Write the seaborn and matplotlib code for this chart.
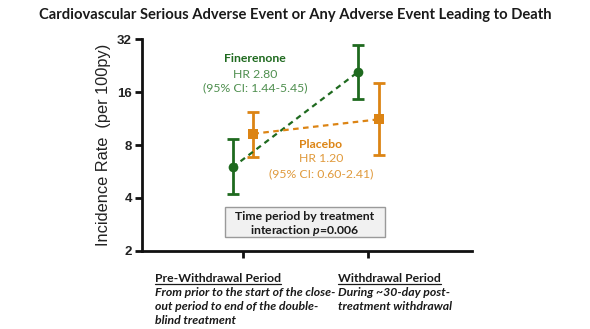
import matplotlib
matplotlib.use("Agg")
import matplotlib.pyplot as plt
from matplotlib.ticker import FixedLocator, FixedFormatter, NullLocator
import seaborn as sns
import pandas as pd
import numpy as np

# Incidence rates (per 100 patient-years) with 95% CI
periods = ["Pre-Withdrawal Period", "Withdrawal Period"]
finerenone_rate = [5.97, 20.8]
finerenone_lo = [4.21, 14.6]
finerenone_hi = [8.62, 29.7]
placebo_rate = [9.28, 11.2]
placebo_lo = [6.81, 6.99]
placebo_hi = [12.3, 18.1]
y_ticks = [2, 4, 8, 16, 32]

GREEN = "#1f6a1f"
GREEN_TXT = "#4f8f4f"
ORANGE = "#dc8414"
ORANGE_TXT = "#e09a3c"

sns.set_theme(style="white")
plt.rcParams["font.family"] = ["Liberation Sans", "DejaVu Sans"]
plt.rcParams["mathtext.fontset"] = "custom"
plt.rcParams["mathtext.it"] = "Lato:italic:bold"

fig = plt.figure(figsize=(5.9, 3.29), dpi=100)
ax = fig.add_axes([0.240, 0.238, 0.560, 0.6425])

offset = 0.083
rows = []
for i, p in enumerate(periods):
    rows.append(dict(group="Finerenone", x=i - offset, rate=finerenone_rate[i],
                     lo=finerenone_lo[i], hi=finerenone_hi[i]))
    rows.append(dict(group="Placebo", x=i + offset, rate=placebo_rate[i],
                     lo=placebo_lo[i], hi=placebo_hi[i]))
df = pd.DataFrame(rows)

palette = {"Finerenone": GREEN, "Placebo": ORANGE}
sns.lineplot(data=df, x="x", y="rate", hue="group", palette=palette,
             style="group", markers={"Finerenone": "o", "Placebo": "s"},
             dashes={"Finerenone": (2.5, 2), "Placebo": (2.5, 2)},
             markersize=7, linewidth=1.6, markeredgewidth=0,
             legend=False, ax=ax, zorder=3)

for g, sub in df.groupby("group"):
    yerr = np.vstack([sub["rate"] - sub["lo"], sub["hi"] - sub["rate"]])
    ax.errorbar(sub["x"], sub["rate"], yerr=yerr, fmt="none",
                ecolor=palette[g], elinewidth=2.0, capsize=4,
                capthick=2.0, zorder=2)

ax.set_yscale("log", base=2)
ax.set_ylim(2, 32)
ax.set_xlim(-0.81, 1.83)
ax.yaxis.set_major_locator(FixedLocator(y_ticks))
ax.yaxis.set_major_formatter(FixedFormatter([str(t) for t in y_ticks]))
ax.yaxis.set_minor_locator(NullLocator())
ax.set_xticks([0, 1])
ax.set_xticklabels(["", ""])

for side in ["top", "right"]:
    ax.spines[side].set_visible(False)
for side in ["left", "bottom"]:
    ax.spines[side].set_color("#111111")
    ax.spines[side].set_linewidth(2.0)
ax.tick_params(axis="both", which="major", direction="out", length=5,
               width=2.0, color="#111111", left=True, bottom=True)
ax.tick_params(axis="y", labelsize=9.5, pad=2)
for lbl in ax.get_yticklabels():
    lbl.set_fontweight("bold")
    lbl.set_color("#222222")

ax.set_xlabel("")
ax.set_ylabel("Incidence Rate  (per 100py)", fontsize=11.8, color="#222222",
              labelpad=4)

title_font = ["Lato", "DejaVu Sans"]
fig.text(0.5, 0.955, "Cardiovascular Serious Adverse Event or Any Adverse Event Leading to Death",
         ha="center", va="center", fontsize=10.6, fontweight="bold",
         family=title_font, color="#1a1a1a")

# Group annotations
fig.text(255 / 590, 1 - 59 / 329, "Finerenone", ha="center", va="center",
         fontsize=8.8, fontweight="bold", family=title_font, color=GREEN)
fig.text(255 / 590, 1 - 74 / 329, "HR 2.80", ha="center", va="center",
         fontsize=8.8, family=title_font, color=GREEN_TXT)
fig.text(255 / 590, 1 - 88 / 329, "(95% CI: 1.44-5.45)", ha="center", va="center",
         fontsize=8.8, family=title_font, color=GREEN_TXT)

fig.text(321 / 590, 1 - 145 / 329, "Placebo", ha="center", va="center",
         fontsize=8.8, fontweight="bold", family=title_font, color=ORANGE)
fig.text(321 / 590, 1 - 159 / 329, "HR 1.20", ha="center", va="center",
         fontsize=8.8, family=title_font, color=ORANGE_TXT)
fig.text(321 / 590, 1 - 174 / 329, "(95% CI: 0.60-2.41)", ha="center", va="center",
         fontsize=8.8, family=title_font, color=ORANGE_TXT)

# Interaction box
box = plt.Rectangle((225 / 590, 1 - 237 / 329), 160 / 590, 30 / 329,
                    transform=fig.transFigure, facecolor="#f1f1f1",
                    edgecolor="#9a9a9a", linewidth=1.0, zorder=1)
fig.add_artist(box)
fig.text(305 / 590, 1 - 216 / 329, "Time period by treatment", ha="center",
         va="center", fontsize=8.8, fontweight="bold", family=title_font,
         color="#1a1a1a")
fig.text(305 / 590, 1 - 230 / 329, r"interaction $\mathit{p}$=0.006",
         ha="center", va="center", fontsize=8.8, fontweight="bold",
         family=title_font, color="#1a1a1a")

# Period descriptions below the axis
def header(x, y, s):
    t = fig.text(x / 590, 1 - y / 329, s, ha="left", va="center",
                 fontsize=8.8, fontweight="bold", family=title_font,
                 color="#1a1a1a")
    fig.canvas.draw()
    bb = t.get_window_extent(renderer=fig.canvas.get_renderer())
    x0, x1 = bb.x0 / fig.bbox.width, bb.x1 / fig.bbox.width
    yl = bb.y0 / fig.bbox.height - 0.002
    fig.add_artist(plt.Line2D([x0, x1], [yl, yl], transform=fig.transFigure,
                              color="#1a1a1a", linewidth=0.9))

header(155, 278, periods[0])
header(338, 278, periods[1])

left_desc = ["From prior to the start of the close-",
             "out period to end of the double-",
             "blind treatment"]
right_desc = ["During ~30-day post-",
              "treatment withdrawal"]
for k, s in enumerate(left_desc):
    fig.text(155 / 590, 1 - (293 + 14 * k) / 329, s, ha="left", va="center",
             fontsize=8.8, fontweight="bold", fontstyle="italic",
             family=title_font, color="#1a1a1a")
for k, s in enumerate(right_desc):
    fig.text(338 / 590, 1 - (293 + 14 * k) / 329, s, ha="left", va="center",
             fontsize=8.8, fontweight="bold", fontstyle="italic",
             family=title_font, color="#1a1a1a")

fig.savefig("out.png", dpi=100, facecolor="white")
